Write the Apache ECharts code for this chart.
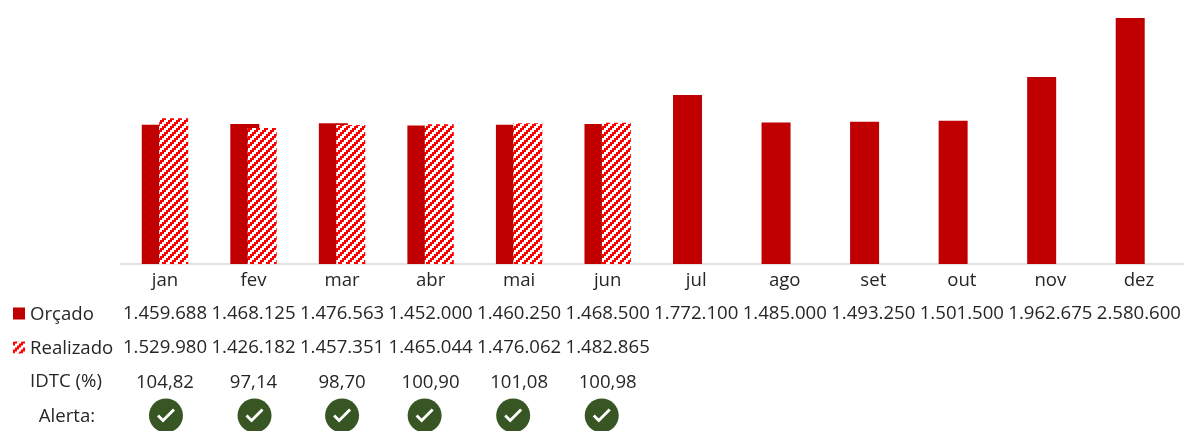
<!DOCTYPE html>
<html><head><meta charset="utf-8">
<style>html,body{margin:0;padding:0;background:#fff}#c{width:1184px;height:431px}</style>
<script src="https://cdn.jsdelivr.net/npm/echarts@6/dist/echarts.min.js"></script>
</head><body><div id="c"></div>
<script>
const months=['jan','fev','mar','abr','mai','jun','jul','ago','set','out','nov','dez'];
const orcado=[1459688,1468125,1476563,1452000,1460250,1468500,1772100,1485000,1493250,1501500,1962675,2580600];
const realizado=[1529980,1426182,1457351,1465044,1476062,1482865];
const idtc=['104,82','97,14','98,70','100,90','101,08','100,98'];
const alerta=[1,1,1,1,1,1];
const fmt=v=>String(v).replace(/\B(?=(\d{3})+$)/g,'.');
const pad=(a)=>months.map((_,i)=>i<a.length?a[i]:'');

const tile=document.createElement('canvas');tile.width=8;tile.height=8;
const g=tile.getContext('2d');g.fillStyle='#fff';g.fillRect(0,0,8,8);g.fillStyle='#ff0000';
for(let y=0;y<8;y++)for(let x=0;x<8;x++){if((Math.floor(x/2)+Math.floor(y/2))%4<2)g.fillRect(x,y,1,1);}
const hatch={image:tile,repeat:'repeat'};

const font='"Open Sans"',tc='#262626',fs=18.6;
const rowAxis=(labels,offset)=>({type:'category',gridIndex:0,position:'bottom',offset,data:labels,
  axisLine:{show:false},axisTick:{show:false},
  axisLabel:{interval:0,fontFamily:font,fontSize:fs,color:tc,margin:6,hideOverlap:false}});
const nudge=[1,1,0,-6,-6,-6];
const option={
  animation:false,backgroundColor:'#fff',
  grid:[{left:120.7,right:0.7,top:18,bottom:167},{left:120.7,right:0.7,top:400,height:34}],
  legend:{orient:'vertical',left:13,top:303,padding:0,itemWidth:12,itemHeight:12,itemGap:13,selectedMode:false,icon:'rect',
    data:['Orçado','Realizado'],
    formatter:n=>'{a|'+n+'}',
    textStyle:{rich:{a:{fontFamily:font,fontSize:fs,color:tc,lineHeight:22,padding:[2,0,0,0]}}}},
  xAxis:[
    {type:'category',gridIndex:0,data:months,axisTick:{show:false},
     axisLine:{lineStyle:{color:'#d9d9d9',width:1.5}},
     axisLabel:{interval:0,fontFamily:font,fontSize:fs,color:tc,margin:7}},
    rowAxis(orcado.map(fmt),34),
    rowAxis(pad(realizado.map(fmt)),68),
    rowAxis(pad(idtc),103),
    {type:'category',gridIndex:1,data:months,show:false}
  ],
  yAxis:[
    {type:'value',gridIndex:0,min:0,max:2580600,show:false},
    {type:'value',gridIndex:1,min:-1,max:1,show:false}
  ],
  series:[
    {name:'Orçado',type:'bar',xAxisIndex:0,yAxisIndex:0,data:orcado,barWidth:29,barGap:'-40%',itemStyle:{color:'#c00000'}},
    {name:'Realizado',type:'bar',xAxisIndex:0,yAxisIndex:0,data:realizado,barWidth:29,barGap:'-40%',itemStyle:{color:hatch}},
    {type:'scatter',xAxisIndex:4,yAxisIndex:1,symbol:'circle',symbolSize:34,clip:false,silent:true,
     data:alerta.map((v,i)=>({value:[i,0],symbolOffset:[nudge[i],0]})),itemStyle:{color:'#375623',opacity:1},z:3},
    {type:'scatter',xAxisIndex:4,yAxisIndex:1,symbol:'path://M0 8L2 6L6 10L16 0L18 2L6 14Z',symbolSize:[18,14],clip:false,silent:true,
     data:alerta.map((v,i)=>({value:[i,0],symbolOffset:[nudge[i],0]})),itemStyle:{color:'#fff',opacity:1},z:4}
  ],
  graphic:[
    {type:'text',x:66,y:382,style:{text:'IDTC (%)',font:'18.6px "Open Sans"',fill:tc,align:'center',verticalAlign:'middle'}},
    {type:'text',x:67,y:417,style:{text:'Alerta:',font:'18.6px "Open Sans"',fill:tc,align:'center',verticalAlign:'middle'}}
  ]
};
echarts.init(document.getElementById('c'),null,{renderer:'canvas'}).setOption(option);
</script></body></html>
